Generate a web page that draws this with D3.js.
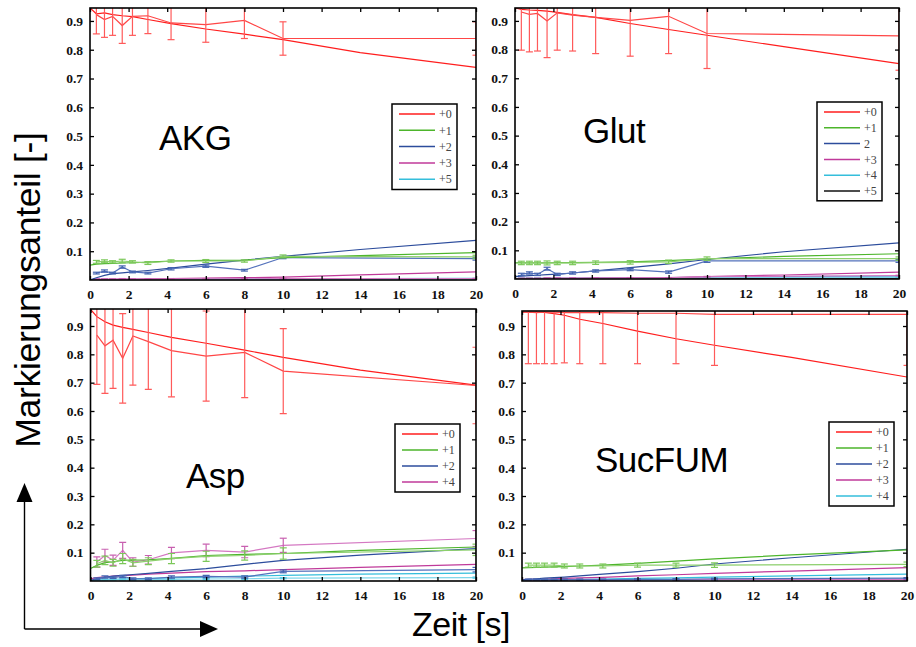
<!DOCTYPE html>
<html>
<head>
<meta charset="utf-8">
<script src="https://cdn.jsdelivr.net/npm/d3@7"></script>
<style>
  html, body { margin: 0; padding: 0; background: #fff; }
  svg { display: block; }
</style>
</head>
<body>
<svg id="chart" width="916" height="647"></svg>
<script>
// ---------------- DATA ----------------
const timesMeasured = [0.33, 0.75, 1.17, 1.67, 2.2, 3, 4.2, 6, 8, 10, 20];
const timesModel = [0, 0.33, 0.75, 1.17, 1.67, 2.2, 3, 4.2, 6, 8, 10, 14, 20];
const xTickValues = [0, 2, 4, 6, 8, 10, 12, 14, 16, 18, 20];
const yTickValues = [0.1, 0.2, 0.3, 0.4, 0.5, 0.6, 0.7, 0.8, 0.9];

const panelTitles = ["AKG", "Glut", "Asp", "SucFUM"];
const xAxisTitle = "Zeit [s]";
const yAxisTitle = "Markierungsanteil [-]";

// AKG
const akgLabels = ["+0", "+1", "+2", "+3", "+5"];
const akgColors = ["red", "green", "blue", "magenta", "cyan"];
const akgMeasured = [
  [0.922, 0.905, 0.916, 0.884, 0.916, 0.918, 0.893, 0.887, 0.902, 0.839, 0.839],
  [0.063, 0.065, 0.063, 0.066, 0.063, 0.059, 0.066, 0.066, 0.066, 0.082, 0.080],
  [0.024, 0.031, 0.024, 0.045, 0.028, 0.024, 0.039, 0.048, 0.034, 0.078, 0.074],
  [0.003, 0.003, 0.003, 0.004, 0.003, 0.003, 0.004, 0.004, 0.004, 0.005, 0.005],
  [0.001, 0.001, 0.001, 0.001, 0.001, 0.001, 0.002, 0.002, 0.002, 0.002, 0.002]
];
const akgErrors = [
  [0.067, 0.062, 0.066, 0.062, 0.066, 0.062, 0.058, 0.061, 0.063, 0.058, 0.058],
  [0.005, 0.005, 0.004, 0.006, 0.004, 0.005, 0.004, 0.005, 0.004, 0.005, 0.006],
  [0.003, 0.004, 0.003, 0.004, 0.003, 0.003, 0.004, 0.004, 0.003, 0.004, 0.005],
  [0.001, 0.001, 0.001, 0.001, 0.001, 0.001, 0.001, 0.001, 0.001, 0.001, 0.001],
  [0.001, 0.001, 0.001, 0.001, 0.001, 0.001, 0.001, 0.001, 0.001, 0.001, 0.001]
];
const akgModel = [
  [0.945, 0.925, 0.928, 0.922, 0.918, 0.915, 0.905, 0.891, 0.872, 0.854, 0.835, 0.790, 0.739],
  [0.052, 0.055, 0.057, 0.058, 0.059, 0.060, 0.062, 0.066, 0.068, 0.069, 0.078, 0.085, 0.095],
  [0.000, 0.008, 0.016, 0.022, 0.025, 0.028, 0.033, 0.041, 0.055, 0.069, 0.082, 0.106, 0.138],
  [0.000, 0.001, 0.002, 0.002, 0.003, 0.003, 0.004, 0.005, 0.007, 0.008, 0.010, 0.018, 0.028],
  [0.000, 0.001, 0.001, 0.001, 0.001, 0.001, 0.002, 0.002, 0.003, 0.003, 0.004, 0.005, 0.006]
];

// Glut
const glutLabels = ["+0", "+1", "2", "+3", "+4", "+5"];
const glutColors = ["red", "green", "blue", "magenta", "cyan", "black"];
const glutMeasured = [
  [0.931, 0.923, 0.926, 0.900, 0.928, 0.920, 0.912, 0.902, 0.916, 0.856, 0.848],
  [0.056, 0.056, 0.056, 0.056, 0.056, 0.056, 0.057, 0.058, 0.060, 0.071, 0.071],
  [0.016, 0.021, 0.016, 0.036, 0.016, 0.021, 0.028, 0.033, 0.024, 0.063, 0.063],
  [0.002, 0.002, 0.002, 0.003, 0.003, 0.003, 0.003, 0.004, 0.004, 0.008, 0.012],
  [0.002, 0.002, 0.002, 0.002, 0.002, 0.002, 0.003, 0.003, 0.003, 0.005, 0.006],
  [0.001, 0.001, 0.001, 0.001, 0.001, 0.001, 0.001, 0.001, 0.001, 0.001, 0.002]
];
const glutErrors = [
  [0.133, 0.131, 0.131, 0.128, 0.130, 0.125, 0.126, 0.125, 0.130, 0.122, 0.120],
  [0.006, 0.006, 0.006, 0.007, 0.006, 0.006, 0.006, 0.006, 0.006, 0.006, 0.006],
  [0.004, 0.004, 0.004, 0.005, 0.004, 0.004, 0.004, 0.004, 0.004, 0.005, 0.005],
  [0.001, 0.001, 0.001, 0.001, 0.001, 0.001, 0.001, 0.001, 0.001, 0.001, 0.001],
  [0.001, 0.001, 0.001, 0.001, 0.001, 0.001, 0.001, 0.001, 0.001, 0.001, 0.001],
  [0.001, 0.001, 0.001, 0.001, 0.001, 0.001, 0.001, 0.001, 0.001, 0.001, 0.001]
];
const glutModel = [
  [0.945, 0.940, 0.938, 0.937, 0.934, 0.930, 0.922, 0.912, 0.891, 0.870, 0.850, 0.810, 0.751],
  [0.056, 0.056, 0.056, 0.056, 0.056, 0.057, 0.057, 0.058, 0.060, 0.064, 0.070, 0.079, 0.088],
  [0.008, 0.010, 0.012, 0.013, 0.015, 0.017, 0.021, 0.028, 0.040, 0.053, 0.068, 0.095, 0.126],
  [0.000, 0.000, 0.001, 0.001, 0.001, 0.002, 0.002, 0.003, 0.004, 0.005, 0.008, 0.014, 0.024],
  [0.000, 0.001, 0.001, 0.001, 0.002, 0.002, 0.002, 0.003, 0.004, 0.005, 0.006, 0.008, 0.010],
  [0.000, 0.000, 0.000, 0.001, 0.001, 0.001, 0.001, 0.001, 0.002, 0.002, 0.002, 0.003, 0.003]
];

// Asp (cyan series drawn but not listed in the legend)
const aspLabels = ["+0", "+1", "+2", "+4", ""];
const aspColors = ["red", "green", "blue", "magenta", "cyan"];
const aspMeasured = [
  [0.868, 0.830, 0.850, 0.786, 0.865, 0.845, 0.813, 0.794, 0.807, 0.741, 0.690],
  [0.061, 0.073, 0.064, 0.079, 0.064, 0.070, 0.079, 0.087, 0.090, 0.097, 0.110],
  [0.008, 0.014, 0.012, 0.016, 0.008, 0.008, 0.014, 0.016, 0.014, 0.034, 0.040],
  [0.067, 0.090, 0.073, 0.108, 0.067, 0.075, 0.099, 0.108, 0.102, 0.126, 0.150],
  [0.004, 0.005, 0.005, 0.006, 0.005, 0.005, 0.006, 0.007, 0.008, 0.010, 0.012]
];
const aspErrors = [
  [0.174, 0.168, 0.170, 0.158, 0.174, 0.169, 0.163, 0.159, 0.160, 0.150, 0.135],
  [0.012, 0.015, 0.012, 0.018, 0.012, 0.012, 0.018, 0.018, 0.016, 0.020, 0.020],
  [0.003, 0.004, 0.003, 0.004, 0.003, 0.003, 0.004, 0.004, 0.004, 0.005, 0.008],
  [0.018, 0.022, 0.018, 0.028, 0.015, 0.015, 0.020, 0.022, 0.020, 0.025, 0.028],
  [0.002, 0.002, 0.002, 0.002, 0.002, 0.002, 0.002, 0.002, 0.002, 0.002, 0.002]
];
const aspModel = [
  [0.959, 0.933, 0.915, 0.903, 0.895, 0.888, 0.877, 0.860, 0.839, 0.815, 0.789, 0.744, 0.691],
  [0.044, 0.055, 0.065, 0.068, 0.073, 0.074, 0.075, 0.080, 0.090, 0.094, 0.097, 0.108, 0.120],
  [0.002, 0.008, 0.013, 0.017, 0.020, 0.023, 0.027, 0.034, 0.044, 0.059, 0.073, 0.091, 0.114],
  [0.008, 0.012, 0.015, 0.017, 0.019, 0.021, 0.024, 0.028, 0.033, 0.036, 0.040, 0.048, 0.059],
  [0.001, 0.003, 0.005, 0.006, 0.007, 0.008, 0.009, 0.011, 0.014, 0.017, 0.020, 0.024, 0.028]
];

// SucFUM
const sucLabels = ["+0", "+1", "+2", "+3", "+4"];
const sucColors = ["red", "green", "blue", "magenta", "cyan"];
const sucMeasured = [
  [0.949, 0.947, 0.949, 0.949, 0.947, 0.947, 0.947, 0.945, 0.945, 0.941, 0.941],
  [0.056, 0.056, 0.056, 0.056, 0.053, 0.053, 0.053, 0.056, 0.056, 0.056, 0.059],
  [0.005, 0.005, 0.005, 0.005, 0.005, 0.005, 0.005, 0.006, 0.006, 0.008, 0.010],
  [0.003, 0.003, 0.003, 0.004, 0.004, 0.004, 0.004, 0.005, 0.005, 0.006, 0.006],
  [0.002, 0.002, 0.002, 0.002, 0.003, 0.003, 0.003, 0.003, 0.004, 0.005, 0.008]
];
const sucErrors = [
  [0.182, 0.180, 0.182, 0.182, 0.177, 0.180, 0.180, 0.178, 0.178, 0.180, 0.180],
  [0.007, 0.007, 0.007, 0.007, 0.007, 0.007, 0.007, 0.007, 0.007, 0.008, 0.008],
  [0.002, 0.002, 0.002, 0.002, 0.002, 0.002, 0.002, 0.002, 0.002, 0.002, 0.002],
  [0.002, 0.002, 0.002, 0.002, 0.002, 0.002, 0.002, 0.002, 0.002, 0.002, 0.002],
  [0.002, 0.002, 0.002, 0.002, 0.002, 0.002, 0.002, 0.002, 0.002, 0.002, 0.002]
];
const sucModel = [
  [0.949, 0.949, 0.949, 0.948, 0.944, 0.938, 0.924, 0.909, 0.882, 0.855, 0.832, 0.789, 0.720],
  [0.046, 0.047, 0.048, 0.049, 0.050, 0.051, 0.053, 0.056, 0.062, 0.070, 0.078, 0.092, 0.110],
  [0.004, 0.006, 0.008, 0.010, 0.012, 0.014, 0.018, 0.024, 0.033, 0.045, 0.060, 0.082, 0.112],
  [0.005, 0.006, 0.006, 0.007, 0.008, 0.009, 0.011, 0.013, 0.018, 0.022, 0.027, 0.035, 0.047],
  [0.002, 0.003, 0.003, 0.004, 0.004, 0.005, 0.006, 0.007, 0.009, 0.011, 0.014, 0.018, 0.024]
];

// ---------------- STYLE / LAYOUT ----------------
const palette = {
  red:     { model: "#ff1e1e", meas: "#ff4646", bar: "#ff5a5a" },
  green:   { model: "#4db52b", meas: "#8ccf6c", bar: "#7cc85a" },
  blue:    { model: "#2c4c9c", meas: "#5472bc", bar: "#4464b0" },
  magenta: { model: "#c03a9a", meas: "#d478c2", bar: "#c860b0" },
  cyan:    { model: "#34bedb", meas: "#7ed6ea", bar: "#5ccbe2" },
  black:   { model: "#111111", meas: "#333333", bar: "#333333" }
};

const layout = [
  { title: panelTitles[0], left: 90,  right: 476, top: 8,   bottom: 280, ymax: 0.945,
    titleX: 159, titleY: 150, leg: { x: 392, y: 104, w: 65, row: 16.3 },
    labels: akgLabels, colors: akgColors, meas: akgMeasured, err: akgErrors, model: akgModel },
  { title: panelTitles[1], left: 515, right: 899, top: 8,   bottom: 279, ymax: 0.945,
    titleX: 583, titleY: 143, leg: { x: 817, y: 102, w: 65, row: 15.8 },
    labels: glutLabels, colors: glutColors, meas: glutMeasured, err: glutErrors, model: glutModel },
  { title: panelTitles[2], left: 90.5, right: 476, top: 309, bottom: 581, ymax: 0.960,
    titleX: 186, titleY: 488, leg: { x: 395, y: 424, w: 65, row: 16 },
    labels: aspLabels, colors: aspColors, meas: aspMeasured, err: aspErrors, model: aspModel },
  { title: panelTitles[3], left: 522, right: 907, top: 311, bottom: 581, ymax: 0.953,
    titleX: 595, titleY: 472, leg: { x: 829, y: 422, w: 65, row: 16 },
    labels: sucLabels, colors: sucColors, meas: sucMeasured, err: sucErrors, model: sucModel }
];

const svg = d3.select("#chart");
const tickFont = "'Liberation Serif', 'Times New Roman', serif";
const sansFont = "'Liberation Sans', Arial, Helvetica, sans-serif";

layout.forEach((p, pi) => {
  const x = d3.scaleLinear().domain([0, 20]).range([p.left, p.right]);
  const y = d3.scaleLinear().domain([0, p.ymax]).range([p.bottom, p.top]);
  const g = svg.append("g");
  const clipId = "clip" + pi;
  svg.append("clipPath").attr("id", clipId).append("rect")
    .attr("x", p.left).attr("y", p.top)
    .attr("width", p.right - p.left).attr("height", p.bottom - p.top);

  const plot = g.append("g").attr("clip-path", `url(#${clipId})`);
  const line = d3.line().x(d => x(d[0])).y(d => y(d[1]));

  // draw series in reverse so +0 (red) ends on top
  for (let s = p.meas.length - 1; s >= 0; s--) {
    const col = palette[p.colors[s]];
    // model line
    const modelPts = timesModel.map((t, i) => [t, p.model[s][i]]);
    plot.append("path").attr("d", line(modelPts))
      .attr("fill", "none").attr("stroke", col.model).attr("stroke-width", 1.2);
    // measured line
    const measPts = timesMeasured.map((t, i) => [t, p.meas[s][i]]);
    plot.append("path").attr("d", line(measPts))
      .attr("fill", "none").attr("stroke", col.meas).attr("stroke-width", 1.2);
    // error bars
    timesMeasured.forEach((t, i) => {
      const v = p.meas[s][i], e = p.err[s][i];
      const cx = x(t), y1 = y(v + e), y2 = y(v - e);
      const eb = plot.append("g").attr("stroke", col.bar).attr("stroke-width", 1.2);
      eb.append("line").attr("x1", cx).attr("x2", cx).attr("y1", y1).attr("y2", y2);
      eb.append("line").attr("x1", cx - 3.5).attr("x2", cx + 3.5).attr("y1", y1).attr("y2", y1);
      eb.append("line").attr("x1", cx - 3.5).attr("x2", cx + 3.5).attr("y1", y2).attr("y2", y2);
    });
  }

  // axes: ticks inward on all four sides
  const tickLen = 4;
  const axB = g.append("g").attr("transform", `translate(0,${p.bottom})`)
    .call(d3.axisBottom(x).tickValues(xTickValues).tickSize(-tickLen).tickPadding(9).tickFormat(d3.format("d")));
  const axT = g.append("g").attr("transform", `translate(0,${p.top})`)
    .call(d3.axisTop(x).tickValues(xTickValues).tickSize(-tickLen).tickFormat(""));
  const axL = g.append("g").attr("transform", `translate(${p.left},0)`)
    .call(d3.axisLeft(y).tickValues(yTickValues).tickSize(-tickLen).tickPadding(7).tickFormat(d3.format(".1f")));
  const axR = g.append("g").attr("transform", `translate(${p.right},0)`)
    .call(d3.axisRight(y).tickValues(yTickValues).tickSize(-tickLen).tickFormat(""));
  [axB, axT, axL, axR].forEach(a => {
    a.select(".domain").remove();
    a.selectAll(".tick line").attr("stroke", "#000").attr("stroke-width", 1.3);
    a.selectAll("text").attr("font-family", tickFont).attr("font-weight", "bold")
      .attr("font-size", 13.5).attr("fill", "#111");
  });

  // frame
  g.append("rect").attr("x", p.left).attr("y", p.top)
    .attr("width", p.right - p.left).attr("height", p.bottom - p.top)
    .attr("fill", "none").attr("stroke", "#000").attr("stroke-width", 1.6);

  // panel title
  g.append("text").attr("x", p.titleX).attr("y", p.titleY)
    .attr("font-family", sansFont).attr("font-size", 35).attr("fill", "#000")
    .attr("letter-spacing", -0.5).text(p.title);

  // legend
  const entries = p.labels.map((l, i) => ({ label: l, color: p.colors[i] })).filter(d => d.label !== "");
  const L = p.leg;
  const lh = entries.length * L.row + 4;
  const lg = g.append("g").attr("transform", `translate(${L.x},${L.y})`);
  lg.append("rect").attr("x", 0).attr("y", 0).attr("width", L.w).attr("height", lh)
    .attr("fill", "#fff").attr("stroke", "#000").attr("stroke-width", 1.5);
  entries.forEach((d, i) => {
    const yy = 10 + i * L.row;
    lg.append("line").attr("x1", 7).attr("x2", 43).attr("y1", yy).attr("y2", yy)
      .attr("stroke", palette[d.color].model).attr("stroke-width", 1.5);
    lg.append("text").attr("x", 47).attr("y", yy).attr("dy", "0.35em")
      .attr("font-family", tickFont).attr("font-size", 12).attr("fill", "#444").text(d.label);
  });
});

// global axis titles
svg.append("text")
  .attr("transform", "translate(40,290) rotate(-90)")
  .attr("text-anchor", "middle")
  .attr("font-family", sansFont).attr("font-size", 35.5).attr("fill", "#000")
  .attr("letter-spacing", -0.3)
  .text(yAxisTitle);

svg.append("text")
  .attr("x", 412).attr("y", 636)
  .attr("font-family", sansFont).attr("font-size", 34).attr("fill", "#000")
  .attr("letter-spacing", -0.5)
  .text(xAxisTitle);

// arrows
const arrows = svg.append("g");
arrows.append("path").attr("d", "M24.5,629 V500 M24.5,629 H202")
  .attr("fill", "none").attr("stroke", "#000").attr("stroke-width", 1.4);
arrows.append("path").attr("d", "M24.5,483 L16.5,502 L32.5,502 Z").attr("fill", "#000");
arrows.append("path").attr("d", "M218,629 L200,621 L200,637 Z").attr("fill", "#000");
</script>
</body>
</html>
